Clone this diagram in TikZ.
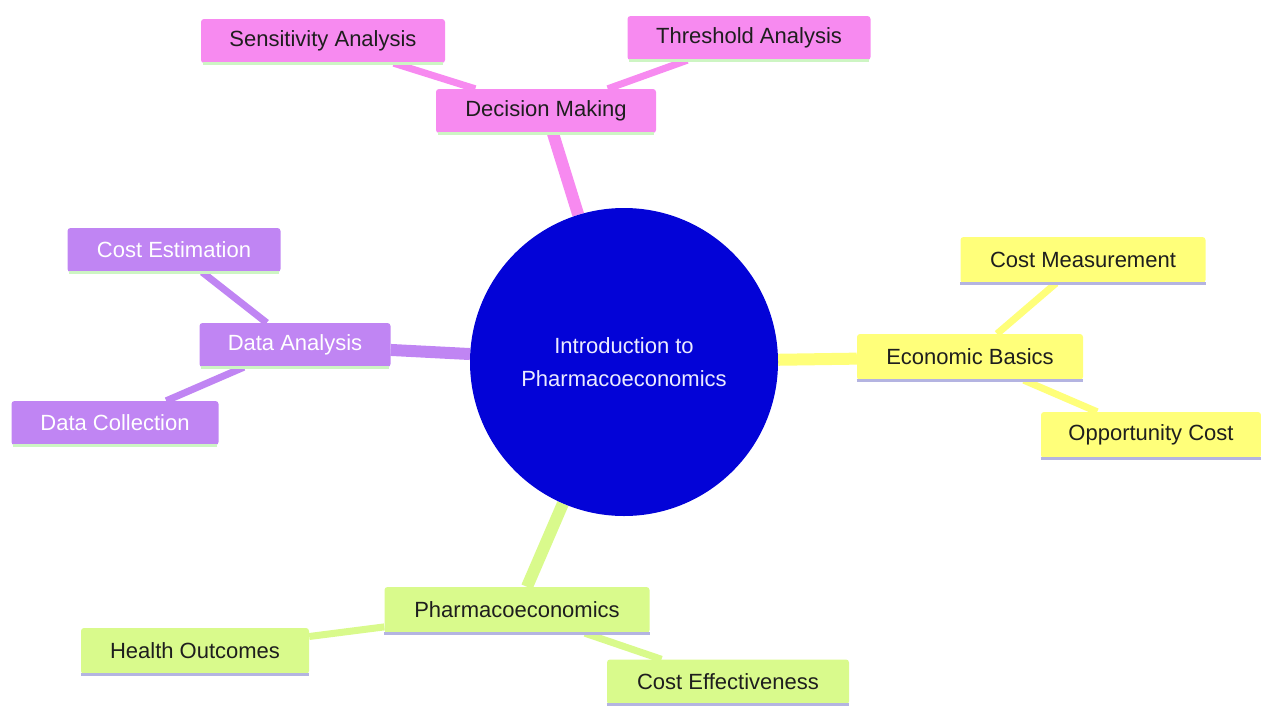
\documentclass[tikz,border=0pt]{standalone}
\usepackage{fontspec}
\setmainfont{Liberation Sans}
\usetikzlibrary{backgrounds}
\definecolor{cpink}{RGB}{247,138,240}
\definecolor{cpurple}{RGB}{192,133,243}
\definecolor{cyellow}{RGB}{255,255,122}
\definecolor{cgreen}{RGB}{217,250,140}
\definecolor{cblue}{RGB}{3,3,215}
\definecolor{ulav}{RGB}{180,180,225}
\definecolor{ugreen}{RGB}{205,245,195}
\definecolor{txt}{RGB}{30,30,30}
\tikzset{
  mm/.style={rectangle, rounded corners=3pt, inner sep=0pt, font=\fontsize{22}{26}\selectfont, text=txt},
  pinkbox/.style={mm, fill=cpink},
  purplebox/.style={mm, fill=cpurple, text=white},
  yellowbox/.style={mm, fill=cyellow},
  greenbox/.style={mm, fill=cgreen},
  mainedge/.style={line width=12pt},
  subedge/.style={line width=7pt},
  uline/.style={line width=3pt},
}
\begin{document}
\begin{tikzpicture}[x=1pt,y=-1pt]
\useasboundingbox (0,0) rectangle (1261,707);
% center
\node[circle, fill=cblue, minimum size=308pt, inner sep=0pt, text=white!92!blue, align=center,
  font=\fontsize{22}{33}\selectfont] (c) at (624,362) {Introduction to\\Pharmacoeconomics};
% pink
\node[pinkbox, minimum width=220pt, minimum height=44pt] (dm) at (546,111) {Decision Making};
\node[pinkbox, minimum width=244pt, minimum height=44pt] (sa) at (323,41) {Sensitivity Analysis};
\node[pinkbox, minimum width=243pt, minimum height=44pt] (ta) at (749,38) {Threshold Analysis};
% purple
\node[purplebox, minimum width=191pt, minimum height=44pt] (da) at (295,345) {Data Analysis};
\node[purplebox, minimum width=213pt, minimum height=44pt] (ce) at (174,250) {Cost Estimation};
\node[purplebox, minimum width=207pt, minimum height=44pt] (dc) at (115,423) {Data Collection};
% yellow
\node[yellowbox, minimum width=226pt, minimum height=46pt] (eb) at (970,357) {Economic Basics};
\node[yellowbox, minimum width=245pt, minimum height=46pt] (cm) at (1083,260) {Cost Measurement};
\node[yellowbox, minimum width=220pt, minimum height=46pt] (oc) at (1151,435) {Opportunity Cost};
% green
\node[greenbox, minimum width=265pt, minimum height=46pt] (ph) at (517,610) {Pharmacoeconomics};
\node[greenbox, minimum width=228pt, minimum height=46pt] (ho) at (195,651) {Health Outcomes};
\node[greenbox, minimum width=242pt, minimum height=45pt] (cf) at (728,682) {Cost Effectiveness};
% underlines
\foreach \n in {dm,sa,ta,da,ce,dc}{
  \draw[uline, ugreen] ([xshift=2pt]\n.south west) -- ([xshift=-2pt]\n.south east);
}
\foreach \n in {eb,cm,oc,ph,ho,cf}{
  \draw[uline, ulav] (\n.south west) -- (\n.south east);
}
\begin{scope}[on background layer]
\draw[mainedge, cpink] (c) -- (dm);
\draw[subedge, cpink] (dm) -- (sa);
\draw[subedge, cpink] (dm) -- (ta);
\draw[mainedge, cpurple] (c) -- (da);
\draw[subedge, cpurple] (da) -- (ce);
\draw[subedge, cpurple] (da) -- (dc);
\draw[mainedge, cyellow] (c) -- (eb);
\draw[subedge, cyellow] (eb) -- (cm);
\draw[subedge, cyellow] (eb) -- (oc);
\draw[mainedge, cgreen] (c) -- (ph);
\draw[subedge, cgreen] (ph) -- (ho);
\draw[subedge, cgreen] (ph) -- (cf);
\end{scope}
\end{tikzpicture}
\end{document}
